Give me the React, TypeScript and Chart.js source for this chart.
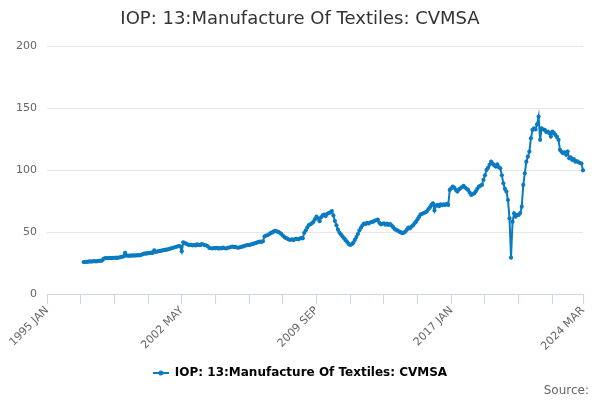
import * as React from 'react';
import { useEffect, useRef } from 'react';
import { Chart, registerables } from 'chart.js';

Chart.register(...registerables);

const seriesName = 'IOP: 13:Manufacture Of Textiles: CVMSA';
const monthNames = ['JAN', 'FEB', 'MAR', 'APR', 'MAY', 'JUN', 'JUL', 'AUG', 'SEP', 'OCT', 'NOV', 'DEC'];
const startYear = 1995;
const endYear = 2024;
const endMonth = 3;
const firstDataYear = 1997;
const labelledTicks = [0, 88, 176, 264, 350];
const tickStep = 22;

const v1997 = [25.8, 26.0, 25.9, 26.1, 26.3, 26.2, 26.4, 26.5, 26.3, 26.6, 26.8, 26.7];
const v1998 = [27.2, 28.5, 29.0, 29.1, 28.9, 29.2, 29.0, 29.3, 29.1, 29.4, 29.2, 29.5];
const v1999 = [29.8, 30.1, 30.4, 33.2, 31.0, 31.1, 30.8, 31.2, 31.0, 31.3, 31.1, 31.4];
const v2000 = [31.2, 31.5, 31.9, 32.4, 32.8, 32.6, 33.1, 33.0, 33.4, 33.2, 35.2, 34.0];
const v2001 = [34.3, 34.6, 34.8, 35.1, 35.4, 35.6, 35.8, 36.1, 36.4, 36.9, 37.3, 37.6];
const v2002 = [38.0, 38.4, 38.7, 38.5, 34.5, 41.8, 41.2, 40.6, 40.0, 39.5, 39.8, 39.3];
const v2003 = [39.6, 39.2, 40.1, 39.7, 39.4, 40.3, 40.0, 39.5, 39.2, 38.6, 37.2, 37.0];
const v2004 = [36.8, 37.2, 36.9, 37.4, 36.7, 37.1, 36.9, 37.5, 37.0, 36.8, 37.3, 37.6];
const v2005 = [38.0, 38.4, 37.9, 38.2, 37.6, 37.4, 37.8, 38.1, 38.5, 39.0, 39.3, 39.6];
const v2006 = [39.4, 40.0, 40.3, 40.8, 41.2, 41.5, 42.0, 42.4, 42.1, 42.6, 46.5, 47.2];
const v2007 = [47.5, 48.3, 49.2, 49.8, 50.5, 51.0, 50.6, 50.2, 49.5, 48.6, 47.2, 46.0];
const v2008 = [45.3, 44.6, 44.0, 43.8, 44.2, 43.6, 44.3, 44.6, 44.2, 44.8, 45.2, 45.0];
const v2009 = [49.5, 51.5, 53.8, 55.8, 56.4, 57.1, 58.5, 60.5, 62.5, 61.0, 58.8, 62.0];
const v2010 = [63.5, 64.2, 63.0, 64.8, 65.5, 66.0, 67.0, 63.5, 59.0, 55.5, 52.0, 49.5];
const v2011 = [48.0, 46.5, 45.0, 43.5, 42.0, 40.5, 39.6, 40.2, 41.5, 43.7, 46.0, 48.5];
const v2012 = [51.5, 53.5, 55.5, 57.0, 56.5, 57.5, 57.0, 57.8, 58.2, 58.5, 59.2, 59.8];
const v2013 = [60.2, 57.5, 56.3, 56.8, 57.2, 56.0, 57.0, 55.8, 56.5, 55.5, 54.0, 52.5];
const v2014 = [51.8, 51.2, 50.4, 50.0, 49.2, 49.5, 50.5, 52.0, 53.6, 53.1, 54.5, 55.5];
const v2015 = [57.1, 58.5, 60.5, 62.5, 64.4, 64.8, 65.5, 66.0, 66.6, 68.5, 70.0, 72.0];
const v2016 = [73.3, 67.5, 71.4, 72.0, 71.0, 72.5, 71.8, 72.5, 72.0, 72.8, 72.0, 84.1];
const v2017 = [85.5, 86.8, 85.8, 84.0, 82.8, 84.5, 85.5, 86.5, 87.4, 86.0, 85.0, 84.1];
const v2018 = [82.0, 80.1, 80.8, 81.4, 83.0, 85.0, 86.8, 87.5, 88.2, 92.2, 96.0, 100.3];
const v2019 = [102.0, 104.5, 107.0, 105.5, 104.0, 103.0, 104.9, 102.5, 101.6, 96.0, 89.5, 85.0];
const v2020 = [82.8, 76.0, 61.2, 29.4, 58.5, 65.2, 62.5, 64.0, 63.9, 65.5, 70.6, 88.2];
const v2021 = [97.6, 107.0, 111.0, 115.1, 125.9, 132.7, 134.0, 133.0, 137.2, 143.4, 124.6, 134.0];
const v2022 = [133.0, 132.7, 131.0, 131.3, 130.0, 127.3, 131.3, 130.0, 128.6, 127.0, 124.6, 116.5];
const v2023 = [115.0, 113.8, 114.5, 112.5, 115.1, 109.7, 110.5, 108.4, 109.0, 107.0, 107.5, 106.5];
const v2024 = [106.0, 105.5, 100.0];

const yearValues = [
  v1997, v1998, v1999, v2000, v2001, v2002, v2003, v2004, v2005, v2006,
  v2007, v2008, v2009, v2010, v2011, v2012, v2013, v2014, v2015, v2016,
  v2017, v2018, v2019, v2020, v2021, v2022, v2023, v2024,
];

const labels: string[] = [];
for (let y = startYear; y <= endYear; y++) {
  for (let m = 0; m < 12; m++) {
    if (y === endYear && m >= endMonth) break;
    labels.push(`${y} ${monthNames[m]}`);
  }
}

const leadingGap = (firstDataYear - startYear) * 12;
const values: (number | null)[] = [
  ...new Array(leadingGap).fill(null),
  ...yearValues.flat(),
];

const lineColor = '#0a7bc2';

function legendSymbol(): HTMLCanvasElement {
  const c = document.createElement('canvas');
  c.width = 16;
  c.height = 8;
  const ctx = c.getContext('2d')!;
  ctx.strokeStyle = lineColor;
  ctx.lineWidth = 2;
  ctx.beginPath();
  ctx.moveTo(0, 4);
  ctx.lineTo(16, 4);
  ctx.stroke();
  ctx.fillStyle = lineColor;
  ctx.beginPath();
  ctx.arc(8, 4, 2.5, 0, Math.PI * 2);
  ctx.fill();
  return c;
}

export default function App() {
  const canvasRef = useRef<HTMLCanvasElement>(null);

  useEffect(() => {
    const el = canvasRef.current;
    if (!el) return;
    Chart.defaults.font.family = '"DejaVu Sans", sans-serif';
    const symbol = legendSymbol();

    const chart = new Chart(el, {
      type: 'line',
      data: {
        labels,
        datasets: [
          {
            label: seriesName,
            data: values,
            borderColor: lineColor,
            backgroundColor: lineColor,
            borderWidth: 2,
            pointRadius: 2.1,
            pointHoverRadius: 3,
            pointBackgroundColor: lineColor,
            pointBorderWidth: 0,
            tension: 0,
            spanGaps: false,
          },
        ],
      },
      options: {
        animation: false,
        responsive: true,
        maintainAspectRatio: false,
        layout: { padding: { left: 11, right: 11, top: 0, bottom: 0 } },
        plugins: {
          title: {
            display: true,
            text: seriesName,
            color: '#333333',
            font: { size: 18, weight: 'normal' },
            padding: { top: 9, bottom: 16 },
          },
          subtitle: {
            display: true,
            text: 'Source:',
            position: 'bottom',
            align: 'end',
            color: '#666666',
            font: { size: 12, weight: 'normal', lineHeight: 1 },
            padding: { top: -4, bottom: 3 },
          },
          legend: {
            position: 'bottom',
            labels: {
              color: '#333333',
              font: { size: 12, weight: 'bold' },
              usePointStyle: true,
              pointStyleWidth: 16,
              padding: 3,
              generateLabels: () => [
                {
                  text: seriesName,
                  pointStyle: symbol,
                  fillStyle: lineColor,
                  strokeStyle: lineColor,
                  lineWidth: 0,
                  hidden: false,
                  datasetIndex: 0,
                },
              ],
            },
          },
          tooltip: { enabled: false },
        },
        scales: {
          x: {
            type: 'category',
            offset: false,
            afterBuildTicks: (scale: any) => {
              scale.ticks = scale.ticks.filter(
                (t: any) => t.value % tickStep === 0 || t.value === labels.length - 1
              );
            },
            afterFit: (scale: any) => {
              scale.height = 70;
            },
            border: { display: true, color: '#ccd6eb', width: 1 },
            grid: {
              display: true,
              drawOnChartArea: false,
              drawTicks: true,
              tickLength: 10,
              color: '#ccd6eb',
            },
            ticks: {
              autoSkip: false,
              minRotation: 45,
              maxRotation: 45,
              padding: 0,
              color: '#666666',
              font: { size: 11 },
              callback: function (this: any, value: any) {
                return labelledTicks.includes(value) ? this.getLabelForValue(value) : '';
              },
            },
          },
          y: {
            min: 0,
            max: 200,
            afterFit: (scale: any) => {
              scale.width = 36;
            },
            border: { display: false },
            grid: { color: '#e6e6e6', drawTicks: false },
            ticks: {
              stepSize: 50,
              padding: 10,
              color: '#666666',
              font: { size: 11 },
            },
          },
          yRight: {
            position: 'right',
            display: true,
            afterFit: (scale: any) => {
              scale.width = 6;
            },
            border: { display: false },
            grid: { display: false },
            ticks: { display: false },
          },
        },
      },
    });

    return () => {
      chart.destroy();
    };
  }, []);

  return (
    <div style={{ position: 'fixed', left: 0, top: 0, width: 600, height: 400, background: '#ffffff' }}>
      <canvas ref={canvasRef} />
    </div>
  );
}
